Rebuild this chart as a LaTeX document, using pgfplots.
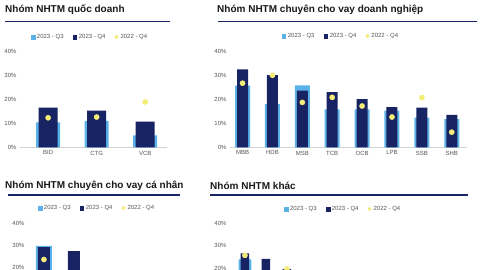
\documentclass[border=0pt]{standalone}
\usepackage{pgfplots}
\pgfplotsset{compat=1.18}
\usepackage{fontspec}
\setmainfont{Liberation Sans}
\definecolor{lb}{RGB}{90,178,232}
\definecolor{nv}{RGB}{24,35,100}
\definecolor{yl}{RGB}{244,236,120}
\definecolor{tg}{RGB}{85,85,85}
\definecolor{ttl}{RGB}{25,25,25}
\pgfplotsset{
 panel/.style={
   scale only axis, ymin=0, ymax=40, ytick={0,10,20,30,40},
   yticklabels={0\%,10\%,20\%,30\%,40\%},
   axis line style={draw=none}, major tick length=0pt,
   extra y ticks={0}, extra y tick labels={},
   extra y tick style={grid=major, major grid style={draw=gray!35, line width=0.7pt}},
   tick label style={font=\fontsize{6}{7}\selectfont, text=tg},
   legend columns=3,
   legend style={draw=none, fill=none, font=\fontsize{6}{7}\selectfont, text=tg, anchor=center,
     /tikz/every even column/.append style={column sep=7pt}},
   legend cell align=left,
   clip=false,
 },
 q3/.style={ybar, bar shift=0pt, fill=lb, draw=none, forget plot},
 q4/.style={ybar, bar shift=0pt, fill=nv, draw=none, forget plot},
 dt/.style={only marks, mark=*, color=yl, mark size=2.6pt, mark options={fill=yl, draw=yl}, forget plot},
}
\newcommand{\legs}{%
  \addlegendimage{legend image code/.code={\fill[lb] (0pt,-1.9pt) rectangle (3.8pt,1.9pt);}}
  \addlegendentry{2023 - Q3}
  \addlegendimage{legend image code/.code={\fill[nv] (0pt,-1.9pt) rectangle (3.8pt,1.9pt);}}
  \addlegendentry{2023 - Q4}
  \addlegendimage{legend image code/.code={\fill[yl] (1.9pt,0pt) circle (1.8pt);}}
  \addlegendentry{2022 - Q4}
}
\begin{document}
\begin{tikzpicture}
\useasboundingbox (0,0) rectangle (480pt,270pt);
\clip (0,0) rectangle (480pt,270pt);
% titles
\node[anchor=west, inner sep=0, font=\bfseries\fontsize{10}{12}\selectfont, text=ttl] at (5pt,260pt) {Nhóm NHTM quốc doanh};
\node[anchor=west, inner sep=0, font=\bfseries\fontsize{10}{12}\selectfont, text=ttl] at (217pt,260.5pt) {Nhóm NHTM chuyên cho vay doanh nghiệp};
\node[anchor=west, inner sep=0, font=\bfseries\fontsize{10}{12}\selectfont, text=ttl] at (5pt,84pt) {Nhóm NHTM chuyên cho vay cá nhân};
\node[anchor=west, inner sep=0, font=\bfseries\fontsize{10}{12}\selectfont, text=ttl] at (210pt,84pt) {Nhóm NHTM khác};
\draw[nv, line width=1.4pt] (5pt,248.3pt) -- (170pt,248.3pt);
\draw[nv, line width=1.4pt] (218pt,248.3pt) -- (477pt,248.3pt);
\draw[nv, line width=1.4pt] (8pt,74.8pt) -- (180pt,74.8pt);
\draw[nv, line width=1.4pt] (210pt,75pt) -- (468pt,75pt);

% top-left
\begin{axis}[panel, at={(20pt,122.7pt)}, anchor=south west, width=147pt, height=96pt,
  xmin=-0.58, xmax=2.45, xtick={0,1,2}, xticklabels={BID,CTG,VCB},
  legend style={at={(axis description cs:0.476,1.149)}}]
\legs
\addplot[q3, bar width=24pt] coordinates {(0,10.4) (1,11.0) (2,5.0)};
\addplot[q4, bar width=19pt] coordinates {(0,16.5) (1,15.3) (2,10.7)};
\addplot[dt] coordinates {(0,12.3) (1,12.6) (2,18.9)};
\end{axis}

% top-right
\begin{axis}[panel, at={(230pt,122.7pt)}, anchor=south west, width=237pt, height=96pt,
  xmin=-0.42, xmax=7.51, xtick={0,...,7}, xticklabels={MBB,HDB,MSB,TCB,OCB,LPB,SSB,SHB},
  legend style={at={(axis description cs:0.468,1.159)}}]
\legs
\addplot[q3, bar width=15pt] coordinates {(0,25.7) (1,18.0) (2,25.8) (3,15.8) (4,15.8) (5,15.3) (6,12.4) (7,11.7)};
\addplot[q4, bar width=11pt] coordinates {(0,32.5) (1,30.1) (2,23.6) (3,23.0) (4,20.1) (5,16.7) (6,16.5) (7,13.5)};
\addplot[dt] coordinates {(0,26.7) (1,30.0) (2,18.7) (3,20.8) (4,17.2) (5,12.6) (6,20.7) (7,6.3)};
\end{axis}

% bottom-left (lower part lies below the visible area, as in the reference)
\begin{axis}[panel, at={(28pt,-41pt)}, anchor=south west, width=151pt, height=88pt,
  xmin=-0.53, xmax=4.5, xtick=\empty, ytick={20,30,40}, yticklabels={20\%,30\%,40\%},
  legend style={at={(axis description cs:0.457,1.17)}}]
\legs
\addplot[q3, bar width=16pt] coordinates {(0,29.6) (1,17.5) (2,16) (3,14) (4,12)};
\addplot[q4, bar width=12pt] coordinates {(0,29.0) (1,27.2) (2,17) (3,15) (4,13)};
\addplot[dt] coordinates {(0,23.4) (1,15) (2,14) (3,12) (4,11)};
\end{axis}

% bottom-right
\begin{axis}[panel, at={(230pt,-43pt)}, anchor=south west, width=237pt, height=90pt,
  xmin=-0.71, xmax=10.57, xtick=\empty, ytick={20,30,40}, yticklabels={20\%,30\%,40\%},
  legend style={at={(axis description cs:0.477,1.156)}}]
\legs
\addplot[q3, bar width=12.7pt] coordinates {(0,23.8) (1,18) (2,17) (3,15) (4,14) (5,13) (6,12) (7,11) (8,10) (9,9) (10,8)};
\addplot[q4, bar width=8.5pt] coordinates {(0,26.5) (1,24.0) (2,19.5) (3,18) (4,17) (5,16) (6,15) (7,14) (8,12) (9,10) (10,9)};
\addplot[dt] coordinates {(0,25.6) (1,17) (2,19.6) (3,15) (4,14) (5,13) (6,12) (7,11) (8,10) (9,9) (10,8)};
\end{axis}
\end{tikzpicture}
\end{document}
